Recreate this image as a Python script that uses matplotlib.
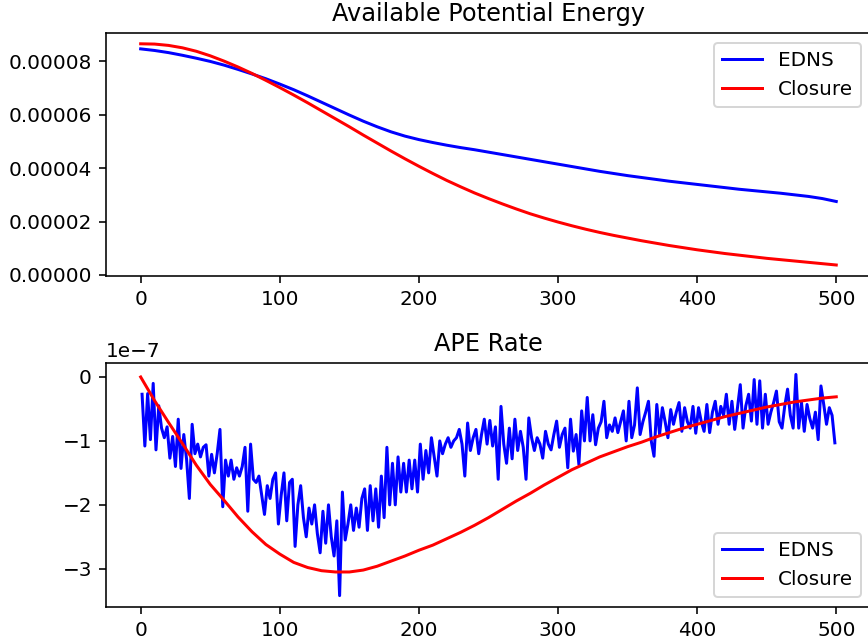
import matplotlib
matplotlib.use('Agg')
import matplotlib.pyplot as plt
import numpy as np

# smooth curves are sampled every 10 time units
t_smooth = list(range(0, 501, 10))

# top panel: available potential energy (units of 1e-5)
ape_edns = [8.47, 8.41, 8.33, 8.23, 8.12, 8.00, 7.86, 7.70, 7.53, 7.35,
            7.15, 6.94, 6.71, 6.47, 6.23, 5.99, 5.76, 5.55, 5.36, 5.20,
            5.07, 4.96, 4.86, 4.77, 4.69, 4.60, 4.51, 4.42, 4.33, 4.24,
            4.15, 4.06, 3.97, 3.88, 3.80, 3.72, 3.65, 3.58, 3.51, 3.45,
            3.39, 3.33, 3.27, 3.21, 3.16, 3.11, 3.06, 3.00, 2.94, 2.86,
            2.75]
ape_closure = [8.66, 8.65, 8.60, 8.51, 8.38, 8.21, 8.01, 7.79, 7.55, 7.29,
               7.02, 6.74, 6.45, 6.15, 5.85, 5.55, 5.24, 4.94, 4.64, 4.35,
               4.07, 3.80, 3.54, 3.30, 3.07, 2.86, 2.66, 2.47, 2.29, 2.13,
               1.98, 1.84, 1.71, 1.59, 1.48, 1.38, 1.28, 1.19, 1.10, 1.02,
               0.94, 0.87, 0.80, 0.74, 0.68, 0.62, 0.57, 0.52, 0.47, 0.42,
               0.37]

# bottom panel: APE rate (units of 1e-7)
rate_closure = [0.00, -0.37, -0.71, -1.04, -1.38, -1.68, -1.93, -2.19, -2.42, -2.62,
                -2.77, -2.90, -2.98, -3.03, -3.05, -3.05, -3.02, -2.96, -2.88, -2.80,
                -2.71, -2.63, -2.53, -2.43, -2.32, -2.20, -2.07, -1.94, -1.82, -1.69,
                -1.57, -1.45, -1.35, -1.25, -1.17, -1.09, -1.02, -0.94, -0.87, -0.80,
                -0.74, -0.68, -0.62, -0.57, -0.52, -0.47, -0.43, -0.39, -0.36, -0.33,
                -0.31]

t_rate = list(range(1, 500, 2))
rate_edns = [
    -0.27, -1.08, -0.26, -0.98, -0.10, -1.14, -0.45, -0.80, -0.95, -0.78,
    -1.27, -0.93, -1.40, -0.66, -1.43, -0.90, -1.29, -1.90, -0.74, -1.20,
    -1.05, -1.25, -1.10, -1.06, -1.55, -1.21, -1.50, -1.20, -0.82, -2.03,
    -1.30, -1.55, -1.30, -1.60, -1.42, -1.55, -1.40, -1.10, -2.10, -1.05,
    -1.60, -1.65, -1.55, -1.85, -2.15, -1.70, -1.90, -1.60, -1.50, -2.30,
    -1.85, -1.50, -2.25, -1.65, -1.60, -2.65, -2.00, -1.70, -2.20, -2.50,
    -2.05, -2.30, -2.00, -2.45, -2.75, -2.10, -2.60, -2.00, -2.50, -2.80,
    -2.25, -3.42, -1.80, -2.55, -2.30, -2.00, -2.40, -2.05, -2.35, -1.90,
    -1.75, -2.40, -1.70, -2.25, -1.75, -2.35, -1.55, -2.20, -1.10, -2.00,
    -1.35, -2.00, -1.25, -1.80, -1.35, -1.80, -1.30, -1.75, -1.30, -1.80,
    -1.05, -1.60, -1.15, -1.50, -0.95, -1.25, -1.55, -1.00, -1.20, -1.05,
    -0.95, -1.10, -1.00, -0.95, -0.82, -1.05, -1.55, -0.72, -1.15, -0.95,
    -0.82, -1.20, -0.90, -0.66, -1.05, -0.68, -1.08, -0.78, -1.60, -0.46,
    -1.05, -1.35, -0.80, -1.28, -0.66, -1.15, -0.85, -1.10, -1.60, -0.64,
    -0.95, -1.15, -0.95, -1.05, -1.27, -0.85, -1.05, -1.14, -0.90, -0.69,
    -1.10, -0.90, -0.80, -1.42, -0.66, -1.16, -0.90, -1.37, -0.53, -1.00,
    -0.32, -1.00, -0.59, -1.06, -0.80, -0.70, -0.38, -0.95, -0.75, -0.85,
    -0.64, -0.87, -0.70, -0.53, -1.00, -0.38, -0.95, -0.75, -0.17, -0.90,
    -0.70, -0.55, -0.38, -1.00, -1.24, -0.43, -0.90, -0.48, -0.70, -0.95,
    -0.51, -0.74, -0.55, -0.40, -0.85, -0.48, -0.70, -0.80, -0.46, -0.88,
    -0.48, -0.70, -0.85, -0.43, -0.87, -0.55, -0.38, -0.74, -0.46, -0.60,
    -0.27, -0.74, -0.38, -0.82, -0.48, -0.12, -0.80, -0.45, -0.27, -0.69,
    -0.04, -0.74, -0.06, -0.80, -0.27, -0.74, -0.55, -0.40, -0.22, -0.70,
    -0.80, -0.45, -0.19, -0.60, -0.80, 0.04, -0.80, -0.40, -0.85, -0.43,
    -0.65, -0.80, -0.55, -0.98, -0.14, -0.43, -0.74, -0.48, -0.60, -1.03,
]

fig = plt.figure(figsize=(868 / 144, 642 / 144), dpi=144)
ax1 = fig.add_axes([0.122, 0.570, 0.8815, 0.379])
ax2 = fig.add_axes([0.122, 0.055, 0.8815, 0.379])

ax1.plot(t_smooth, np.array(ape_edns) * 1e-5, color='b', label='EDNS')
ax1.plot(t_smooth, np.array(ape_closure) * 1e-5, color='r', label='Closure')
ax1.set_title('Available Potential Energy')
ax1.ticklabel_format(axis='y', style='plain', useOffset=False)
ax1.legend(loc='upper right')

ax2.plot(t_rate, np.array(rate_edns) * 1e-7, color='b', label='EDNS')
ax2.plot(t_smooth, np.array(rate_closure) * 1e-7, color='r', label='Closure')
ax2.set_title('APE Rate')
ax2.legend(loc='lower right')

fig.savefig('out.png', dpi=144)
